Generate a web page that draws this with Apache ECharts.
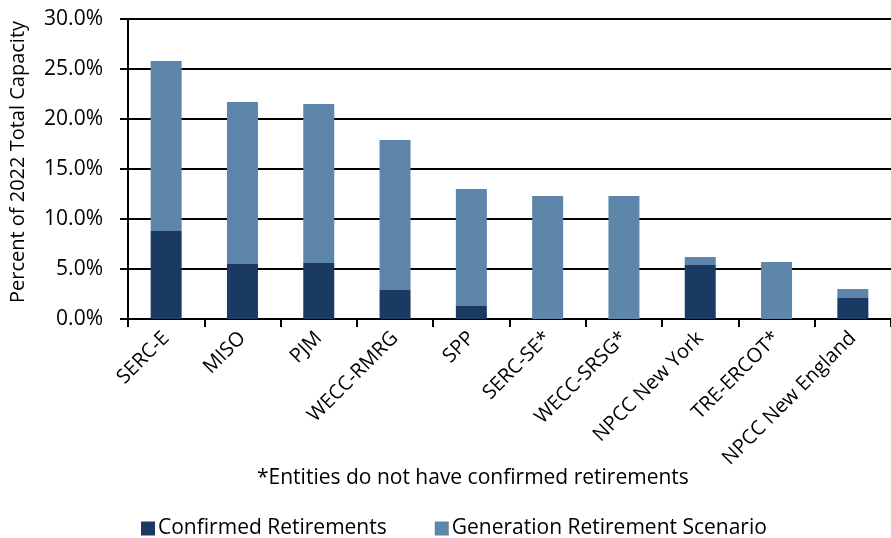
<!DOCTYPE html>
<html>
<head>
<meta charset="utf-8">
<script src="https://cdn.jsdelivr.net/npm/echarts@6/dist/echarts.min.js"></script>
<style>html,body{margin:0;padding:0;background:#fff;}#c{width:891px;height:538px;}</style>
</head>
<body>
<div id="c"></div>
<script>
const categories = ['SERC-E','MISO','PJM','WECC-RMRG','SPP','SERC-SE*','WECC-SRSG*','NPCC New York','TRE-ERCOT*','NPCC New England'];
const confirmed = [8.8, 5.5, 5.6, 2.9, 1.3, 0, 0, 5.4, 0, 2.1];
const scenario = [17.0, 16.2, 15.9, 15.0, 11.7, 12.3, 12.3, 0.8, 5.7, 0.9];
const yTicks = [0, 5, 10, 15, 20, 25, 30];

const FONT = 'Open Sans';
const chart = echarts.init(document.getElementById('c'));
chart.setOption({
  animation: false,
  textStyle: {fontFamily: FONT},
  grid: {left: 126, top: 19, bottom: 219, right: -11, containLabel: false},
  legend: {
    top: 513, left: 136,
    itemWidth: 14, itemHeight: 14, itemGap: 48,
    icon: 'rect',
    textStyle: {fontFamily: FONT, fontSize: 21, color: '#000', padding: [0,0,0,-2]},
    data: ['Confirmed Retirements', 'Generation Retirement Scenario']
  },
  graphic: [{
    type: 'text', left: 257, top: 468,
    style: {text: '*Entities do not have confirmed retirements', fontFamily: FONT, fontSize: 21, fill: '#000'}
  }],
  xAxis: {
    type: 'category', data: categories,
    axisLine: {lineStyle: {color: '#000', width: 2}},
    axisTick: {show: true, length: 8, lineStyle: {color: '#000', width: 2}},
    axisLabel: {rotate: 45, fontSize: 20, color: '#000', margin: 16, interval: 0, fontFamily: FONT}
  },
  yAxis: {
    type: 'value', min: yTicks[0], max: yTicks[yTicks.length-1], interval: 5,
    name: 'Percent of 2022 Total Capacity', nameLocation: 'middle', nameGap: 100,
    nameTextStyle: {fontSize: 20, color: '#000', fontFamily: FONT, padding: [0,0,0,14]},
    axisLine: {show: true, lineStyle: {color: '#000', width: 2}},
    axisTick: {show: true, length: 8, lineStyle: {color: '#000', width: 2}},
    axisLabel: {formatter: v => v.toFixed(1) + '%', fontSize: 21, color: '#000', margin: 25, fontFamily: FONT},
    splitLine: {lineStyle: {color: '#000', width: 2}}
  },
  series: [
    {name: 'Confirmed Retirements', type: 'bar', stack: 's', data: confirmed, barWidth: 31,
     itemStyle: {color: '#1B3A63'}},
    {name: 'Generation Retirement Scenario', type: 'bar', stack: 's', data: scenario, barWidth: 31,
     itemStyle: {color: '#5E86AB'}}
  ]
});
</script>
</body>
</html>
